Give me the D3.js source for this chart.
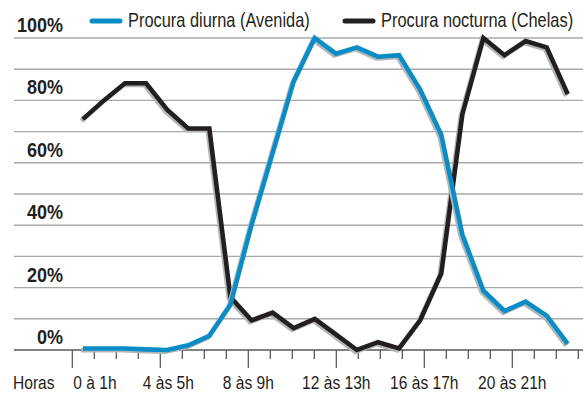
<!DOCTYPE html>
<html>
<head>
<meta charset="utf-8">
<script src="https://cdn.jsdelivr.net/npm/d3@7/dist/d3.min.js"></script>
<style>
  html, body { margin: 0; padding: 0; background: #fff; }
  svg { display: block; }
  text { font-family: "Liberation Sans", Arial, sans-serif; }
</style>
</head>
<body>
<svg id="chart" width="583" height="412"></svg>
<script>
// Hourly periods
const hours = [
  "0 à 1h", "1 às 2h", "2 às 3h", "3 às 4h", "4 às 5h", "5 às 6h",
  "6 às 7h", "7 às 8h", "8 às 9h", "9 às 10h", "10 às 11h", "11 às 12h",
  "12 às 13h", "13 às 14h", "14 às 15h", "15 às 16h", "16 às 17h", "17 às 18h",
  "18 às 19h", "19 às 20h", "20 às 21h", "21 às 22h", "22 às 23h", "23 às 24h"
];

// Demand as % of each series' peak hour
const diurna = [0.5, 0.5, 0.5, 0.2, 0, 1.5, 4.5, 14.5, 40, 63, 86, 100,
                95, 97, 94, 94.5, 83.5, 69, 37, 19, 12.5, 15.5, 11, 2];
const nocturna = [74, 80, 85.5, 85.5, 77, 71, 71, 17, 9.5, 12, 7, 10,
                  5, 0, 2.5, 0.5, 9.5, 24.5, 75.5, 100, 94.5, 99, 97, 82];

const seriesNames = ["Procura diurna (Avenida)", "Procura nocturna (Chelas)"];
const seriesColors = ["#0a8dc6", "#231f20"];

const yLabelTicks = [0, 20, 40, 60, 80, 100];
const gridTicks = [10, 20, 30, 40, 50, 60, 70, 80, 90, 100];
const labelledHours = [0, 4, 8, 12, 16, 20];
const axisTitle = "Horas";

const W = 583, H = 412;
const left = 14, plotL = 72.3, plotR = 578.3;
const NARROW = 0.82;   // condensed face emulated by horizontal scaling
const svg = d3.select("#chart");

const y = d3.scaleLinear().domain([0, 100]).range([350, 38]);
const x = d3.scalePoint().domain(hours).range([plotL, plotR]).padding(0.5);
const tickX = d3.scaleLinear().domain([0, hours.length - 1]).range([plotL, plotR]);

const ink = "#231f20";

// condensed text helper: positions via translate, glyphs squeezed horizontally
function place(sel, px, py, sx) {
  return sel.attr("transform", (d, i) =>
    `translate(${typeof px === "function" ? px(d, i) : px},${typeof py === "function" ? py(d, i) : py}) scale(${sx},1)`);
}

// grid lines
svg.append("g").selectAll("line").data(gridTicks).join("line")
  .attr("x1", left).attr("x2", W)
  .attr("y1", d => y(d)).attr("y2", d => y(d))
  .attr("stroke", "#a6a8ab").attr("stroke-width", 1.4);

// baseline
svg.append("line")
  .attr("x1", left).attr("x2", W)
  .attr("y1", y(0)).attr("y2", y(0))
  .attr("stroke", "#58595b").attr("stroke-width", 1.6);

// hour ticks
svg.append("g").selectAll("line").data(d3.range(hours.length)).join("line")
  .attr("x1", d => tickX(d)).attr("x2", d => tickX(d))
  .attr("y1", y(0))
  .attr("y2", d => y(0) + (labelledHours.includes(d) ? 18 : 9))
  .attr("stroke", "#58595b").attr("stroke-width", 1.3);

// y labels
place(svg.append("g").selectAll("text").data(yLabelTicks).join("text"),
      63, d => y(d) - 6, 0.9)
  .attr("text-anchor", "end")
  .attr("font-size", 20).attr("font-weight", "bold")
  .attr("fill", ink)
  .text(d => d + "%");

// x labels
place(svg.append("text"), 13, 389, NARROW)
  .attr("font-size", 19).attr("fill", ink)
  .text(axisTitle);

place(svg.append("g").selectAll("text").data(labelledHours).join("text"),
      d => d === 0 ? tickX(d) + 1 : tickX(d) + (d === 4 ? 8 : 0), 389, NARROW)
  .attr("text-anchor", d => d === 0 ? "start" : "middle")
  .attr("font-size", 19)
  .attr("fill", ink)
  .text(d => hours[d]);

// series lines with a soft offset shadow
const line = d3.line().x((d, i) => x(hours[i])).y(d => y(d));
const series = [nocturna, diurna];
const colors = [seriesColors[1], seriesColors[0]];
series.forEach((vals, i) => {
  svg.append("path").datum(vals)
    .attr("d", line)
    .attr("transform", "translate(-1.6,1.8)")
    .attr("fill", "none").attr("stroke", "#b4b5b7")
    .attr("stroke-width", 4.6).attr("stroke-linejoin", "miter");
  svg.append("path").datum(vals)
    .attr("d", line)
    .attr("fill", "none").attr("stroke", colors[i])
    .attr("stroke-width", 4.6).attr("stroke-linejoin", "miter");
});

// legend
const legendX = [92, 345];
const lg = svg.append("g").selectAll("g").data(seriesNames).join("g")
  .attr("transform", (d, i) => `translate(${legendX[i]},0)`);
lg.append("line")
  .attr("x1", 0).attr("x2", 28).attr("y1", 21).attr("y2", 21)
  .attr("stroke", (d, i) => seriesColors[i])
  .attr("stroke-width", 5).attr("stroke-linecap", "round");
place(lg.append("text"), 36, 27, NARROW)
  .attr("font-size", 20).attr("fill", ink)
  .text(d => d);
</script>
</body>
</html>
